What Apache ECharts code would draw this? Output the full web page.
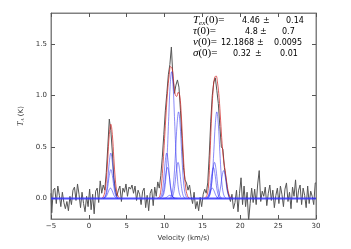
<!DOCTYPE html>
<html><head><meta charset="utf-8">
<script src="https://cdn.jsdelivr.net/npm/echarts@6/dist/echarts.min.js"></script>
<style>html,body{margin:0;padding:0;background:#fff}#c{width:351px;height:249px}</style>
</head><body><div id="c"></div>
<script>
// ---- data ----
const velocity = [
-5.0,-4.8,-4.6,-4.4,-4.2,-4.0,-3.8,-3.6,-3.4,-3.2,-3.0,
-2.8,-2.6,-2.4,-2.2,-2.0,-1.8,-1.6,-1.4,-1.2,-1.0,
-0.8,-0.6,-0.4,-0.2,0.0,0.2,0.4,0.6,0.8,1.0,
1.2,1.4,1.6,1.8,2.0,
2.2,2.4,2.6,2.8,3.0,3.2,3.4,3.6,3.8,
4.0,4.2,4.4,4.6,4.8,5.0,5.2,5.4,5.6,5.8,6.0,
6.2,6.4,6.6,6.8,7.0,7.2,7.4,7.6,7.8,8.0,
8.2,8.4,8.6,8.8,9.0,9.2,9.4,
9.6,9.8,10.0,10.2,10.4,10.6,10.8,11.0,11.2,11.4,11.6,11.8,12.0,12.2,12.4,12.6,12.8,13.0,
13.2,13.4,13.6,13.8,14.0,14.2,14.4,14.6,14.8,15.0,15.2,15.4,
15.6,15.8,16.0,16.2,16.4,16.6,16.8,17.0,17.2,17.4,17.6,17.8,18.0,18.2,18.4,18.6,18.8,19.0,
19.2,19.4,19.6,19.8,20.0,20.2,20.4,20.6,20.8,21.0,21.2,21.4,21.6,21.8,22.0,22.2,22.4,22.6,22.8,23.0,
23.2,23.4,23.6,23.8,24.0,24.2,24.4,24.6,24.8,25.0,
25.2,25.4,25.6,25.8,26.0,26.2,26.4,26.6,26.8,27.0,
27.2,27.4,27.6,27.8,28.0,28.2,28.4,28.6,28.8,29.0,
29.2,29.4,29.6,29.8,30.0];
const spectrumT = [
0.05,-0.14,0.08,0.10,-0.05,0.12,0.03,-0.08,0.06,-0.04,-0.10,
-0.03,-0.12,0.02,-0.06,0.08,0.11,-0.02,0.14,0.04,-0.09,
0.06,-0.05,-0.13,0.02,-0.08,0.09,-0.11,0.04,-0.15,0.07,
0.10,-0.04,0.17,0.05,0.13,
0.08,0.25,0.50,0.77,0.66,0.45,0.20,0.09,0.02,
0.08,0.12,-0.03,0.10,0.06,0.14,0.02,0.11,0.09,0.13,0.05,
0.12,-0.02,0.08,0.04,-0.06,0.07,0.10,-0.09,0.03,-0.12,
0.05,0.09,-0.07,0.11,0.02,0.16,0.10,
0.22,0.40,0.62,0.85,1.02,1.20,1.30,1.47,1.18,1.02,1.10,1.15,1.08,0.85,0.58,0.30,0.18,0.15,
0.08,0.13,0.02,-0.05,0.06,-0.10,-0.03,-0.12,0.01,-0.08,0.04,0.09,
0.05,0.15,0.42,0.75,1.00,1.13,1.17,1.05,0.92,0.70,0.50,0.48,0.30,0.20,0.08,0.02,-0.03,0.04,
-0.10,-0.04,0.08,-0.13,0.05,0.20,-0.06,0.12,-0.08,0.06,-0.22,-0.05,0.10,-0.04,0.09,-0.06,0.14,0.27,-0.03,0.07,
0.02,0.11,-0.07,0.05,0.13,-0.02,0.08,-0.09,0.03,0.10,
-0.05,0.12,0.04,-0.08,0.09,0.15,-0.03,0.06,-0.10,0.11,
0.02,0.18,-0.04,0.08,0.13,-0.06,0.10,0.03,-0.09,0.12,
-0.05,0.07,0.02,-0.06,0.15];

const modelLeft = [[1.7,0],[1.9,0.015],[2.1,0.06],[2.3,0.18],[2.5,0.39],[2.7,0.62],[2.9,0.72],[3.1,0.62],[3.3,0.39],[3.5,0.18],[3.7,0.06],[3.9,0.015],[4.1,0]];
const modelMid = [[9.0,0],[9.2,0.005],[9.4,0.03],[9.6,0.14],[9.8,0.34],[10.0,0.58],[10.2,0.83],[10.4,1.04],[10.6,1.19],[10.8,1.28],[11.0,1.26],[11.2,1.13],[11.4,1.01],[11.6,0.99],[11.8,1.03],[12.0,1.00],[12.2,0.82],[12.4,0.53],[12.6,0.27],[12.8,0.10],[13.0,0.03],[13.2,0.005],[13.4,0]];
const modelRight = [[15.2,0],[15.4,0.01],[15.6,0.03],[15.8,0.12],[16.0,0.42],[16.2,0.78],[16.4,1.04],[16.6,1.17],[16.8,1.19],[17.0,1.12],[17.2,0.98],[17.4,0.76],[17.6,0.53],[17.8,0.37],[18.0,0.27],[18.2,0.16],[18.4,0.07],[18.6,0.02],[18.8,0.005],[19.0,0]];

const compL1 = [[1.9,0.002],[2.1,0.012],[2.3,0.059],[2.5,0.181],[2.7,0.352],[2.9,0.44],[3.1,0.352],[3.3,0.181],[3.5,0.059],[3.7,0.012],[3.9,0.002]];
const compL2 = [[1.9,0.001],[2.1,0.008],[2.3,0.038],[2.5,0.115],[2.7,0.224],[2.9,0.28],[3.1,0.224],[3.3,0.115],[3.5,0.038],[3.7,0.008],[3.9,0.001]];
const compL3 = [[1.85,0],[2.05,0.003],[2.25,0.014],[2.45,0.041],[2.65,0.080],[2.85,0.10],[3.05,0.080],[3.25,0.041],[3.45,0.014],[3.65,0.003],[3.85,0]];
const compA = [[9.73,0.014],[9.93,0.054],[10.13,0.166],[10.33,0.400],[10.53,0.747],[10.73,1.085],[10.93,1.23],[11.13,1.085],[11.33,0.747],[11.53,0.400],[11.73,0.166],[11.93,0.054],[12.13,0.014]];
const compB = [[10.65,0.003],[10.85,0.018],[11.05,0.071],[11.25,0.209],[11.45,0.453],[11.65,0.720],[11.85,0.84],[12.05,0.720],[12.25,0.453],[12.45,0.209],[12.65,0.071],[12.85,0.018],[13.05,0.003]];
const compC = [[9.28,0.002],[9.48,0.012],[9.68,0.059],[9.88,0.181],[10.08,0.352],[10.28,0.44],[10.48,0.352],[10.68,0.181],[10.88,0.059],[11.08,0.012],[11.28,0.002]];
const compD = [[9.38,0.001],[9.58,0.008],[9.78,0.041],[9.98,0.123],[10.18,0.240],[10.38,0.30],[10.58,0.240],[10.78,0.123],[10.98,0.041],[11.18,0.008],[11.38,0.001]];
const compE = [[10.78,0.001],[10.98,0.010],[11.18,0.047],[11.38,0.144],[11.58,0.280],[11.78,0.35],[11.98,0.280],[12.18,0.144],[12.38,0.047],[12.58,0.010],[12.78,0.001]];
const compF = [[9.7,0],[9.9,0.001],[10.1,0.004],[10.3,0.012],[10.5,0.024],[10.7,0.03],[10.9,0.024],[11.1,0.012],[11.3,0.004],[11.5,0.001],[11.7,0]];
const compG = [[15.7,0.003],[15.9,0.018],[16.1,0.071],[16.3,0.209],[16.5,0.453],[16.7,0.720],[16.9,0.84],[17.1,0.720],[17.3,0.453],[17.5,0.209],[17.7,0.071],[17.9,0.018],[18.1,0.003]];
const compH = [[15.6,0.001],[15.8,0.010],[16.0,0.047],[16.2,0.144],[16.4,0.280],[16.6,0.35],[16.8,0.280],[17.0,0.144],[17.2,0.047],[17.4,0.010],[17.6,0.001]];
const compI = [[15.45,0.001],[15.65,0.008],[15.85,0.041],[16.05,0.123],[16.25,0.240],[16.45,0.30],[16.65,0.240],[16.85,0.123],[17.05,0.041],[17.25,0.008],[17.45,0.001]];
const compJ = [[16.8,0.001],[17.0,0.008],[17.2,0.036],[17.4,0.111],[17.6,0.216],[17.8,0.27],[18.0,0.216],[18.2,0.111],[18.4,0.036],[18.6,0.008],[18.8,0.001]];
const compK = [[15.3,0],[15.5,0.003],[15.7,0.014],[15.9,0.041],[16.1,0.080],[16.3,0.10],[16.5,0.080],[16.7,0.041],[16.9,0.014],[17.1,0.003],[17.3,0]];
const baseline = [[-5,0],[30,0]];

const yTicks = [0,0.5,1.0,1.5];
const fitLines = [
  ['{i|T}{s|ex}{m|(0)=}', '4.46', '0.14'],
  ['{i|τ}{m|(0)=}', '4.8', '0.7'],
  ['{i|v}{m|(0)=}', '12.1868', '0.0095'],
  ['{i|σ}{m|(0)=}', '0.32', '0.01']
];

// ---- chart ----
const chart = echarts.init(document.getElementById('c'), null, {renderer:'canvas'});
const FONT = 'DejaVu Sans';
const spine = '#808080';
const commonTick = {show:true, inside:true, length:4, lineStyle:{color:'#555', width:1}};

const components = [compL1,compL2,compL3,compA,compB,compC,compD,compE,compF,compG,compH,compI,compJ,compK];
const series = [];
series.push({type:'line', data: velocity.map((v,i)=>[v, spectrumT[i]]), step:'middle', showSymbol:false,
  lineStyle:{color:'#555', width:1}, z:2, silent:true});
[modelLeft, modelMid, modelRight].forEach(d => series.push({type:'line', data:d, smooth:0.4, showSymbol:false,
  lineStyle:{color:'rgba(210,40,40,0.75)', width:1}, z:3, silent:true}));
components.forEach(d => series.push({type:'line', data:d, smooth:0.4, showSymbol:false,
  lineStyle:{color:'rgba(40,40,240,0.6)', width:0.9}, z:4, silent:true}));
series.push({type:'line', data:baseline, showSymbol:false, lineStyle:{color:'rgba(50,50,255,0.85)', width:2}, z:5, silent:true});

// annotation graphics
const gfx = [];
const ys = [21.5, 32.5, 43.5, 54.5];
const numX = [[242, 263, 286],[245, 260, 282],[221, 257, 274],[233, 255, 280]];
const NUMFONT = '8px "DejaVu Sans"';
fitLines.forEach((ln, k) => {
  gfx.push({type:'text', left:193, top: ys[k]-7, style:{text: ln[0], fill:'#000',
    rich:{i:{fontFamily:'Liberation Serif', fontStyle:'italic', fontSize:11, fill:'#000'},
          s:{fontFamily:'Liberation Serif', fontStyle:'italic', fontSize:7, fill:'#000', verticalAlign:'bottom', padding:[6,0,0,0]},
          m:{fontFamily:'Liberation Serif', fontSize:11, fill:'#000'}}}});
  gfx.push({type:'text', left:numX[k][0], top: ys[k]-5, style:{text: ln[1], font:NUMFONT, fill:'#000'}});
  gfx.push({type:'text', left:numX[k][1], top: ys[k]-5, style:{text: '±', font:NUMFONT, fill:'#000'}});
  gfx.push({type:'text', left:numX[k][2], top: ys[k]-5, style:{text: ln[2], font:NUMFONT, fill:'#000'}});
});

chart.setOption({
  animation:false,
  backgroundColor:'#fff',
  grid:{left:51, right:35, top:13, bottom:30, show:true, borderColor:spine, borderWidth:1, backgroundColor:'transparent'},
  xAxis:[
    {type:'value', min:-5, max:30, interval:5, position:'bottom',
     axisLine:{show:true, onZero:false, lineStyle:{color:spine}}, axisTick:commonTick, splitLine:{show:false},
     axisLabel:{fontSize:7, color:'#333', fontFamily:FONT, margin:4, formatter:v=> (v<0? '\u2212'+Math.abs(v): String(v))},
     name:'Velocity (km/s)', nameLocation:'middle', nameGap:8, nameTextStyle:{fontSize:7, color:'#333', fontFamily:FONT}},
    {type:'value', min:-5, max:30, interval:5, position:'top',
     axisLine:{show:true, onZero:false, lineStyle:{color:spine}}, axisTick:commonTick, axisLabel:{show:false}, splitLine:{show:false}}
  ],
  yAxis:[
    {type:'value', min:-0.2, max:1.8, position:'left',
     axisLine:{show:true, onZero:false, lineStyle:{color:spine}},
     axisTick:Object.assign({}, commonTick, {customValues:yTicks}), splitLine:{show:false},
     axisLabel:{customValues:yTicks, fontSize:7, color:'#333', fontFamily:FONT, margin:4, formatter:v=>v.toFixed(1)},
     name:'{i|T}{s|A} (K)', nameLocation:'middle', nameGap:20,
     nameTextStyle:{fontSize:7, color:'#333', fontFamily:FONT,
       rich:{i:{fontFamily:'Liberation Serif', fontStyle:'italic', fontSize:8, color:'#333'},
             s:{fontFamily:'Liberation Serif', fontStyle:'italic', fontSize:5, color:'#333', verticalAlign:'bottom'}}}},
    {type:'value', min:-0.2, max:1.8, position:'right',
     axisLine:{show:true, onZero:false, lineStyle:{color:spine}},
     axisTick:Object.assign({}, commonTick, {customValues:yTicks}), splitLine:{show:false},
     axisLabel:{show:false}}
  ],
  series: series,
  graphic: gfx
});
</script>
</body></html>
